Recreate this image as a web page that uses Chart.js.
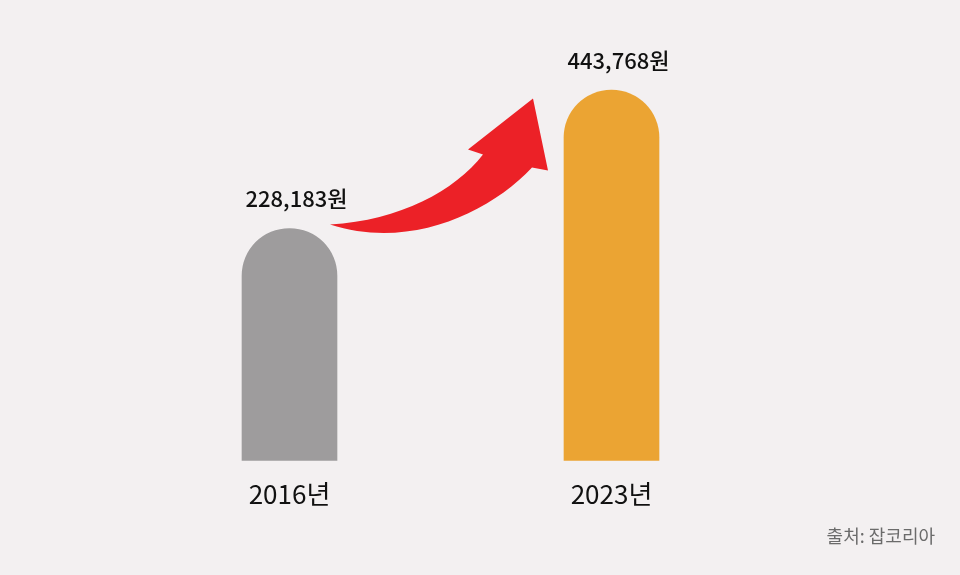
<!DOCTYPE html>
<html>
<head>
<meta charset="utf-8">
<script src="https://cdn.jsdelivr.net/npm/chart.js@4.4.0/dist/chart.umd.min.js"></script>
<style>
html,body{margin:0;padding:0;background:#f3f0f1;}
#wrap{width:960px;height:575px;position:relative;}
</style>
</head>
<body>
<div id="wrap"><canvas id="c" width="960" height="575"></canvas></div>
<script>
const categories = ['2016년', '2023년'];
const wages = [228183, 443768];
const valueLabels = ['228,183원', '443,768원'];
const barColors = ['#9e9c9d', '#eba433'];
const sourceText = '출처: 잡코리아';

const FONT = '"Noto Sans CJK KR", "Noto Sans", sans-serif';
const yMin = -134000, yMax = 584400;

const bgPlugin = {
  id: 'bg',
  beforeDraw(chart) {
    const ctx = chart.ctx;
    ctx.save();
    ctx.fillStyle = '#f3f0f1';
    ctx.fillRect(0, 0, chart.width, chart.height);
    ctx.restore();
  }
};

const decoPlugin = {
  id: 'deco',
  afterDatasetsDraw(chart) {
    const ctx = chart.ctx;
    const bars = chart.getDatasetMeta(0).data;
    ctx.save();
    // value labels
    ctx.font = '500 22px ' + FONT;
    ctx.fillStyle = '#111';
    ctx.textAlign = 'center';
    ctx.textBaseline = 'middle';
    bars.forEach((b, i) => {
      ctx.fillText(valueLabels[i], b.x + 7, b.y - 30);
    });
    // arrow, anchored to gray bar top-right
    const b0 = bars[0];
    const ox = b0.x + b0.width / 2, oy = b0.y;
    const P = (dx, dy) => [ox + dx, oy + dy];
    ctx.fillStyle = '#ec2127';
    ctx.beginPath();
    let p = P(-7, -4); ctx.moveTo(p[0], p[1]);
    let c1 = P(73, 22), c2 = P(153, -16), e = P(195, -61);
    ctx.bezierCurveTo(c1[0], c1[1], c2[0], c2[1], e[0], e[1]);
    p = P(211, -58); ctx.lineTo(p[0], p[1]);
    p = P(196, -130); ctx.lineTo(p[0], p[1]);
    p = P(131, -79); ctx.lineTo(p[0], p[1]);
    p = P(146, -74); ctx.lineTo(p[0], p[1]);
    c1 = P(118, -38); c2 = P(63, -8); e = P(-7, -4);
    ctx.bezierCurveTo(c1[0], c1[1], c2[0], c2[1], e[0], e[1]);
    ctx.closePath();
    ctx.fill();
    // source
    ctx.font = '400 18px ' + FONT;
    ctx.fillStyle = '#6b6b6b';
    ctx.textAlign = 'right';
    ctx.fillText(sourceText, 935, 536);
    ctx.restore();
  }
};

new Chart(document.getElementById('c'), {
  type: 'bar',
  data: {
    labels: categories,
    datasets: [{
      data: wages,
      base: yMin,
      backgroundColor: barColors,
      barThickness: 95,
      borderRadius: {topLeft: 47.5, topRight: 47.5, bottomLeft: 0, bottomRight: 0},
      borderSkipped: 'start'
    }]
  },
  options: {
    responsive: false,
    animation: false,
    devicePixelRatio: 1,
    layout: {padding: {left: 128.5, right: 187.5, top: 0, bottom: 47}},
    plugins: {legend: {display: false}, tooltip: {enabled: false}},
    scales: {
      x: {
        grid: {display: false, drawTicks: false},
        border: {display: false},
        ticks: {color: '#111', font: {family: FONT, size: 26}, padding: 18}
      },
      y: {display: false, min: yMin, max: yMax}
    }
  },
  plugins: [bgPlugin, decoPlugin]
});
</script>
</body>
</html>
